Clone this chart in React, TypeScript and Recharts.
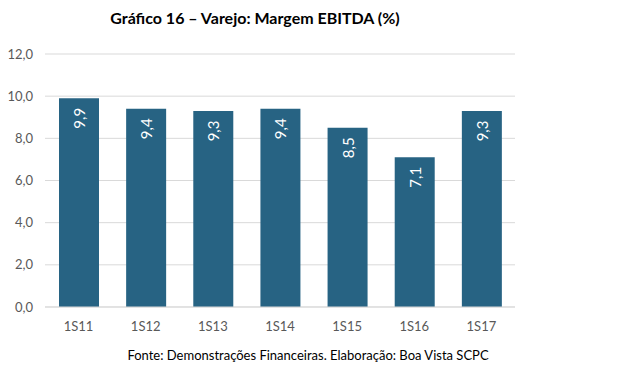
import React from "react";
import { BarChart, Bar, XAxis, YAxis, CartesianGrid, LabelList } from "recharts";

const categories = ["1S11", "1S12", "1S13", "1S14", "1S15", "1S16", "1S17"];
const margins = [9.9, 9.4, 9.3, 9.4, 8.5, 7.1, 9.3];
const yTicks = [0, 2, 4, 6, 8, 10, 12];

const data = categories.map((c, i) => ({ name: c, value: margins[i] }));

const fmt = (v: number) => v.toFixed(1).replace(".", ",");
const FONT = "Lato, 'Open Sans', sans-serif";

const RotLabel = (props: any) => {
  const { x, y, width, value } = props;
  const cx = x + width / 2;
  const cy = y + 20;
  return (
    <text
      x={cx}
      y={cy}
      transform={`rotate(-90, ${cx}, ${cy})`}
      textAnchor="middle"
      dominantBaseline="central"
      fill="#ffffff"
      fontSize={15}
      fontFamily={FONT}
    >
      {fmt(value)}
    </text>
  );
};

export default function App() {
  return (
    <div style={{ position: "absolute", left: 0, top: 0, width: 641, height: 378, background: "#fff" }}>
      <div
        style={{
          position: "absolute",
          left: 0,
          width: 510,
          top: 8,
          textAlign: "center",
          fontFamily: FONT,
          fontWeight: 700,
          fontSize: 16,
          color: "#000",
        }}
      >
        Gráfico 16 – Varejo: Margem EBITDA (%)
      </div>
      <BarChart
        width={641}
        height={378}
        data={data}
        margin={{ top: 54, right: 126, bottom: 41, left: 5 }}
      >
        <CartesianGrid vertical={false} stroke="#d9d9d9" />
        <XAxis
          dataKey="name"
          height={30}
          tickLine={false}
          axisLine={{ stroke: "#d9d9d9" }}
          tick={{ fill: "#595959", fontSize: 13, fontFamily: FONT }}
          tickMargin={9}
        />
        <YAxis
          width={40}
          domain={[0, 12]}
          ticks={yTicks}
          tickFormatter={fmt}
          axisLine={false}
          tickLine={false}
          tick={{ fill: "#595959", fontSize: 13, fontFamily: FONT }}
          tickMargin={6}
        />
        <Bar dataKey="value" fill="#276383" barSize={40} isAnimationActive={false}>
          <LabelList dataKey="value" content={RotLabel} />
        </Bar>
      </BarChart>
      <div
        style={{
          position: "absolute",
          left: 0,
          width: 616,
          top: 347,
          textAlign: "center",
          fontFamily: FONT,
          fontSize: 13,
          color: "#000",
        }}
      >
        Fonte: Demonstrações Financeiras. Elaboração: Boa Vista SCPC
      </div>
    </div>
  );
}
